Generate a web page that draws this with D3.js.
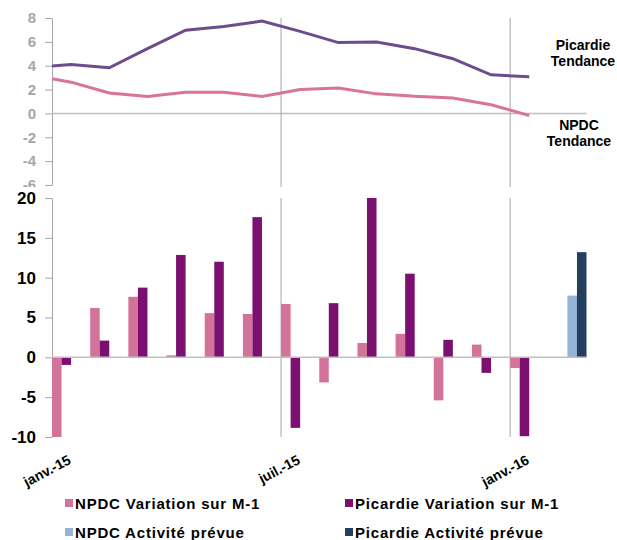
<!DOCTYPE html>
<html>
<head>
<meta charset="utf-8">
<script src="https://cdnjs.cloudflare.com/ajax/libs/d3/7.8.5/d3.min.js"></script>
<style>
  body { margin: 0; background: #fff; }
  svg { display: block; font-family: "Liberation Sans", Arial, sans-serif; font-weight: bold; }
</style>
</head>
<body>
<script>
// months (bars sit inside each month band)
var months = ["janv.-15","févr.-15","mars-15","avr.-15","mai-15","juin-15","juil.-15",
              "août-15","sept.-15","oct.-15","nov.-15","déc.-15","janv.-16","févr.-16"];
var tickMonths = [0, 6, 12];

// bottom panel: monthly change
var npdcVar     = [-10, 6.2, 7.6, 0.25, 5.55, 5.45, 6.7, -3.15, 1.8, 2.95, -5.4, 1.6, -1.35, null];
var picVar      = [-0.95, 2.1, 8.75, 12.85, 12.0, 17.6, -8.85, 6.8, 20, 10.5, 2.2, -1.95, -9.9, null];
var npdcPrevue  = [null, null, null, null, null, null, null, null, null, null, null, null, null, 7.75];
var picPrevue   = [null, null, null, null, null, null, null, null, null, null, null, null, null, 13.2];

// top panel: trends (x in months)
var trendX      = [0, 0.5, 1.5, 2.5, 3.5, 4.5, 5.5, 6.5, 7.5, 8.5, 9.5, 10.5, 11.5, 12.5];
var npdcTrend   = [2.9, 2.62, 1.72, 1.43, 1.77, 1.77, 1.43, 2.0, 2.14, 1.64, 1.43, 1.3, 0.73, -0.17];
var picTrend    = [3.97, 4.1, 3.83, 5.43, 6.98, 7.29, 7.74, 6.88, 5.94, 5.99, 5.43, 4.59, 3.24, 3.07];

var topTicks = [-6, -4, -2, 0, 2, 4, 6, 8];
var botTicks = [-10, -5, 0, 5, 10, 15, 20];

var cPink = "#d4739a", cPurple = "#7b1070", cLight = "#95b3d7", cNavy = "#243f60";
var cTrendPink = "#d9739b", cTrendPurple = "#6d4c8c";
var cAxis = "#a6a6a6";

// plain hyphen for negatives, like the original
var fmt = function(d){ return String(d); };

var svg = d3.select("body").append("svg").attr("width", 617).attr("height", 540);

var x = d3.scaleLinear().domain([0, 14]).range([52, 586.5]);
var yTop = d3.scaleLinear().domain([-6, 8]).range([185, 18]);
var yBot = d3.scaleLinear().domain([-10, 20]).range([437, 198]);

// ---------- top panel ----------
var gTop = svg.append("g");
gTop.append("g")
    .attr("transform", "translate(" + x(0) + ",0)")
    .call(d3.axisLeft(yTop).tickValues(topTicks).tickFormat(fmt).tickSize(7).tickPadding(9).tickSizeOuter(0))
    .call(function(g){
        g.select(".domain").attr("stroke", cAxis);
        g.selectAll(".tick line").attr("stroke", cAxis);
        g.selectAll("text").attr("fill", cAxis).style("font-size", "15px").style("font-family", "inherit");
    });

gTop.append("line")
    .attr("x1", x(0)).attr("x2", x(14))
    .attr("y1", yTop(0)).attr("y2", yTop(0))
    .attr("stroke", "#bfbfbf").attr("stroke-width", 1.5);

gTop.selectAll("line.vgrid")
    .data(tickMonths.slice(1))
    .enter().append("line")
    .attr("class", "vgrid")
    .attr("x1", function(d){ return x(d); }).attr("x2", function(d){ return x(d); })
    .attr("y1", yTop(8)).attr("y2", yTop(-6) + 2)
    .attr("stroke", "#a6a6a6");

var line = d3.line()
    .x(function(d, i){ return x(trendX[i]); })
    .y(function(d){ return yTop(d); });

gTop.append("path").datum(npdcTrend)
    .attr("d", line).attr("fill", "none")
    .attr("stroke", cTrendPink).attr("stroke-width", 3);
gTop.append("path").datum(picTrend)
    .attr("d", line).attr("fill", "none")
    .attr("stroke", cTrendPurple).attr("stroke-width", 3);

// labels on the right
var sideLabels = [
    { lines: ["Picardie", "Tendance"], cx: 583, y: 50 },
    { lines: ["NPDC", "Tendance"], cx: 579, y: 130 }
];
sideLabels.forEach(function(l){
    var t = svg.append("text").attr("text-anchor", "middle").style("font-size", "14px").attr("fill", "#000");
    l.lines.forEach(function(s, i){
        t.append("tspan").attr("x", l.cx).attr("y", l.y + i * 15.5).text(s);
    });
});

// white background of bottom panel hides the end of the top axis
svg.append("rect").attr("x", 0).attr("y", 187).attr("width", 617).attr("height", 353).attr("fill", "#fff");

// ---------- bottom panel ----------
var gBot = svg.append("g");
gBot.append("g")
    .attr("transform", "translate(" + x(0) + ",0)")
    .call(d3.axisLeft(yBot).tickValues(botTicks).tickFormat(fmt).tickSize(7).tickPadding(9).tickSizeOuter(0))
    .call(function(g){
        g.select(".domain").attr("stroke", cAxis);
        g.selectAll(".tick line").attr("stroke", cAxis);
        g.selectAll("text").attr("fill", "#000").style("font-size", "17px").style("font-family", "inherit");
    });

gBot.selectAll("line.vgrid")
    .data(tickMonths.slice(1))
    .enter().append("line")
    .attr("class", "vgrid")
    .attr("x1", function(d){ return x(d); }).attr("x2", function(d){ return x(d); })
    .attr("y1", yBot(20)).attr("y2", yBot(-10))
    .attr("stroke", "#a6a6a6");

var slot = (x(1) - x(0)) / 4;
var barSeries = [
    { values: npdcVar, color: cPink, slot: 0 },
    { values: picVar, color: cPurple, slot: 1 },
    { values: npdcPrevue, color: cLight, slot: 2 },
    { values: picPrevue, color: cNavy, slot: 3 }
];
barSeries.forEach(function(s){
    gBot.append("g").selectAll("rect")
        .data(s.values.map(function(v, i){ return { i: i, v: v }; }).filter(function(d){ return d.v !== null; }))
        .enter().append("rect")
        .attr("x", function(d){ return x(d.i) + s.slot * slot; })
        .attr("width", slot)
        .attr("y", function(d){ return yBot(Math.max(0, d.v)); })
        .attr("height", function(d){ return Math.abs(yBot(d.v) - yBot(0)); })
        .attr("fill", s.color);
});

gBot.append("line")
    .attr("x1", x(0)).attr("x2", x(14))
    .attr("y1", yBot(0)).attr("y2", yBot(0))
    .attr("stroke", "#bfbfbf").attr("stroke-width", 1.5);

// rotated month labels
svg.selectAll("text.month")
    .data(tickMonths)
    .enter().append("text")
    .attr("class", "month")
    .attr("text-anchor", "end")
    .attr("transform", function(d){ return "translate(" + (x(d) + 20) + ",463) rotate(-28)"; })
    .style("font-size", "14px")
    .text(function(d){ return months[d]; });

// legend
var legend = [
    { name: "NPDC Variation sur M-1", color: cPink, lx: 65, ly: 499 },
    { name: "Picardie Variation sur M-1", color: cPurple, lx: 345, ly: 499 },
    { name: "NPDC Activité prévue", color: cLight, lx: 65, ly: 528 },
    { name: "Picardie Activité prévue", color: cNavy, lx: 345, ly: 528 }
];
var lg = svg.selectAll("g.legend").data(legend).enter().append("g").attr("class", "legend")
    .attr("transform", function(d){ return "translate(" + d.lx + "," + d.ly + ")"; });
lg.append("rect").attr("width", 8).attr("height", 8).attr("fill", function(d){ return d.color; });
lg.append("text").attr("x", 10).attr("y", 10)
    .style("font-size", "15px").style("letter-spacing", "0.8px")
    .text(function(d){ return d.name; });
</script>
</body>
</html>
